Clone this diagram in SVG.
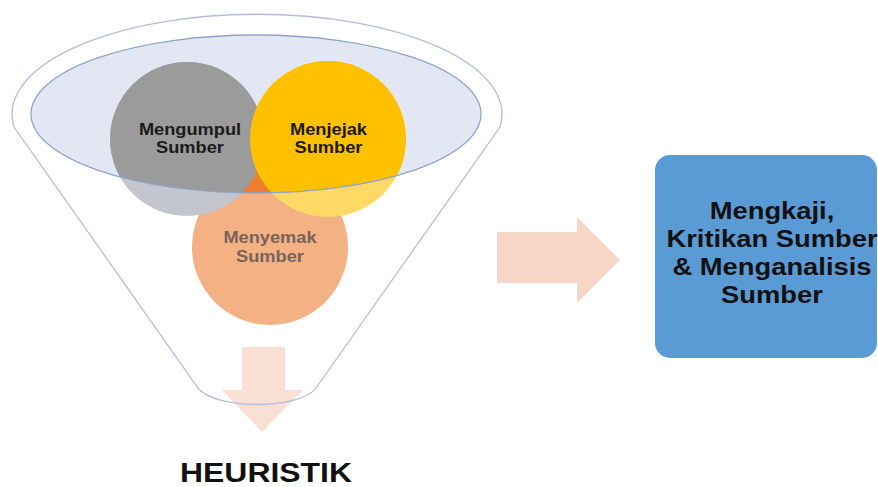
<svg xmlns="http://www.w3.org/2000/svg" width="878" height="487" viewBox="0 0 878 487">
  <style>
    .lbl { font-family: "Liberation Sans", Arial, sans-serif; font-weight: bold; text-anchor: middle; }
    .c16 { font-size: 16px; fill: #1a1a1a; }
    .funnel { fill: none; stroke: #b0bedd; stroke-width: 1.3; }
  </style>
  <defs>
    <clipPath id="inner">
      <ellipse cx="256" cy="114" rx="225" ry="79"/>
    </clipPath>
  </defs>

  <g id="down-arrow">
    <polygon points="242,347 285,347 285,390 303,390 262,432 222,390 242,390" fill="#f9dfd4"/>
  </g>

  <g id="funnel">
    <path class="funnel" d="M 14,127 A 245 100 0 1 1 500,127 L 316,388 C 300,410 215,410 198,388 Z" fill="none"/>
    <ellipse cx="256" cy="114" rx="225" ry="79" fill="#e3e7f3"/>
  </g>

  <g id="circles-light">
    <circle cx="270" cy="247" r="78" fill="#f4b183"/>
    <circle cx="187" cy="139" r="77" fill="#c3c6cd"/>
    <circle cx="328" cy="139" r="78" fill="#ffd966"/>
  </g>
  <g id="circles-dark" clip-path="url(#inner)">
    <circle cx="270" cy="247" r="78" fill="#ed7d31"/>
    <circle cx="187" cy="139" r="77" fill="#9b9b9b"/>
    <circle cx="328" cy="139" r="78" fill="#ffc000"/>
  </g>
  <g id="inner-rim">
    <ellipse cx="256" cy="114" rx="225" ry="79" fill="none" stroke="#8fa3cc" stroke-width="1.3"/>
  </g>

  <g id="node-mengumpul">
    <g transform="matrix(1.14,0,0,1,190,0)">
      <text class="lbl c16" x="0" y="135">Mengumpul</text>
      <text class="lbl c16" x="0" y="153">Sumber</text>
    </g>
  </g>
  <g id="node-menjejak">
    <g transform="matrix(1.14,0,0,1,328.5,0)">
      <text class="lbl c16" x="0" y="135">Menjejak</text>
      <text class="lbl c16" x="0" y="153">Sumber</text>
    </g>
  </g>
  <g id="node-menyemak">
    <g transform="matrix(1.14,0,0,1,270,0)">
      <text class="lbl" x="0" y="243" font-size="16" fill="#76645b">Menyemak</text>
      <text class="lbl" x="0" y="262" font-size="16" fill="#76645b">Sumber</text>
    </g>
  </g>

  <g id="title">
    <g transform="matrix(1.14,0,0,1,266,0)">
      <text class="lbl" x="0" y="482" font-size="28" fill="#111">HEURISTIK</text>
    </g>
  </g>

  <g id="connectors">
    <polygon points="497,232 577,232 577,217 620,260 577,303 577,283 497,283" fill="#f7d6c8"/>
  </g>

  <g id="node-mengkaji">
    <rect x="655" y="155" width="222" height="203" rx="15" ry="15" fill="#5b9bd5"/>
    <g transform="matrix(1.14,0,0,1,772,0)">
      <text class="lbl" x="0" y="219" font-size="24" fill="#111">Mengkaji,</text>
      <text class="lbl" x="0" y="247" font-size="24" fill="#111">Kritikan Sumber</text>
      <text class="lbl" x="0" y="275" font-size="24" fill="#111">&amp; Menganalisis</text>
      <text class="lbl" x="0" y="303" font-size="24" fill="#111">Sumber</text>
    </g>
  </g>
</svg>
